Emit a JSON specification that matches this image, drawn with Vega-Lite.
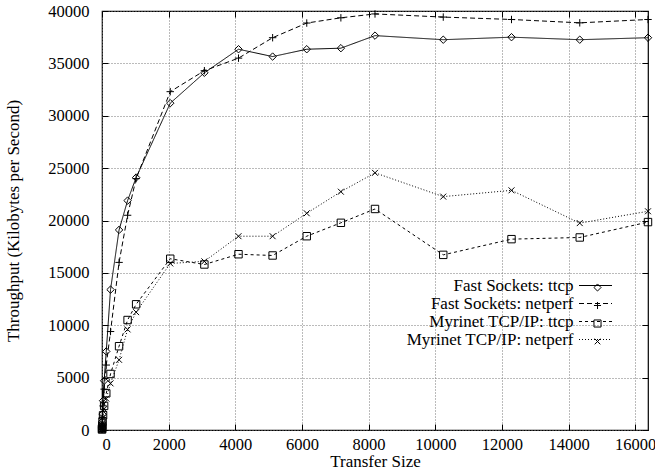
{
  "$schema": "https://vega.github.io/schema/vega-lite/v6.json",
  "width": 546,
  "height": 419,
  "autosize": {"type": "none"},
  "padding": {"left": 102, "top": 11, "right": 7, "bottom": 41},
  "background": "white",
  "config": {
    "font": "Liberation Serif",
    "view": {"stroke": "black", "strokeWidth": 1.2},
    "axis": {
      "labelFont": "Liberation Serif",
      "labelFontSize": 16.5,
      "labelColor": "black",
      "titleFont": "Liberation Serif",
      "titleFontSize": 17,
      "titleFontWeight": "normal",
      "titleColor": "black",
      "domain": false,
      "tickColor": "black",
      "tickSize": -6,
      "gridColor": "#777777",
      "gridDash": [1, 2],
      "gridWidth": 1,
      "gridOpacity": 1
    },
    "legend": {
      "labelFont": "Liberation Serif",
      "labelFontSize": 17,
      "labelColor": "black",
      "labelLimit": 400
    }
  },
  "data": {
    "values": [
      {"size": 1, "tput": 100, "series": "Fast Sockets: ttcp"},
      {"size": 2, "tput": 200, "series": "Fast Sockets: ttcp"},
      {"size": 4, "tput": 400, "series": "Fast Sockets: ttcp"},
      {"size": 8, "tput": 800, "series": "Fast Sockets: ttcp"},
      {"size": 16, "tput": 1500, "series": "Fast Sockets: ttcp"},
      {"size": 32, "tput": 2800, "series": "Fast Sockets: ttcp"},
      {"size": 64, "tput": 4700, "series": "Fast Sockets: ttcp"},
      {"size": 128, "tput": 7500, "series": "Fast Sockets: ttcp"},
      {"size": 256, "tput": 13400, "series": "Fast Sockets: ttcp"},
      {"size": 512, "tput": 19100, "series": "Fast Sockets: ttcp"},
      {"size": 768, "tput": 21900, "series": "Fast Sockets: ttcp"},
      {"size": 1024, "tput": 24100, "series": "Fast Sockets: ttcp"},
      {"size": 2048, "tput": 31200, "series": "Fast Sockets: ttcp"},
      {"size": 3072, "tput": 34100, "series": "Fast Sockets: ttcp"},
      {"size": 4096, "tput": 36350, "series": "Fast Sockets: ttcp"},
      {"size": 5120, "tput": 35650, "series": "Fast Sockets: ttcp"},
      {"size": 6144, "tput": 36350, "series": "Fast Sockets: ttcp"},
      {"size": 7168, "tput": 36450, "series": "Fast Sockets: ttcp"},
      {"size": 8192, "tput": 37650, "series": "Fast Sockets: ttcp"},
      {"size": 10240, "tput": 37260, "series": "Fast Sockets: ttcp"},
      {"size": 12288, "tput": 37500, "series": "Fast Sockets: ttcp"},
      {"size": 14336, "tput": 37260, "series": "Fast Sockets: ttcp"},
      {"size": 16384, "tput": 37450, "series": "Fast Sockets: ttcp"},

      {"size": 1, "tput": 80, "series": "Fast Sockets: netperf"},
      {"size": 2, "tput": 160, "series": "Fast Sockets: netperf"},
      {"size": 4, "tput": 320, "series": "Fast Sockets: netperf"},
      {"size": 8, "tput": 640, "series": "Fast Sockets: netperf"},
      {"size": 16, "tput": 1200, "series": "Fast Sockets: netperf"},
      {"size": 32, "tput": 2300, "series": "Fast Sockets: netperf"},
      {"size": 64, "tput": 3900, "series": "Fast Sockets: netperf"},
      {"size": 128, "tput": 6200, "series": "Fast Sockets: netperf"},
      {"size": 256, "tput": 9400, "series": "Fast Sockets: netperf"},
      {"size": 512, "tput": 16000, "series": "Fast Sockets: netperf"},
      {"size": 768, "tput": 20500, "series": "Fast Sockets: netperf"},
      {"size": 1024, "tput": 24000, "series": "Fast Sockets: netperf"},
      {"size": 2048, "tput": 32300, "series": "Fast Sockets: netperf"},
      {"size": 3072, "tput": 34300, "series": "Fast Sockets: netperf"},
      {"size": 4096, "tput": 35500, "series": "Fast Sockets: netperf"},
      {"size": 5120, "tput": 37450, "series": "Fast Sockets: netperf"},
      {"size": 6144, "tput": 38850, "series": "Fast Sockets: netperf"},
      {"size": 7168, "tput": 39350, "series": "Fast Sockets: netperf"},
      {"size": 8192, "tput": 39720, "series": "Fast Sockets: netperf"},
      {"size": 10240, "tput": 39420, "series": "Fast Sockets: netperf"},
      {"size": 12288, "tput": 39190, "series": "Fast Sockets: netperf"},
      {"size": 14336, "tput": 38870, "series": "Fast Sockets: netperf"},
      {"size": 16384, "tput": 39190, "series": "Fast Sockets: netperf"},

      {"size": 1, "tput": 50, "series": "Myrinet TCP/IP: ttcp"},
      {"size": 2, "tput": 100, "series": "Myrinet TCP/IP: ttcp"},
      {"size": 4, "tput": 200, "series": "Myrinet TCP/IP: ttcp"},
      {"size": 8, "tput": 400, "series": "Myrinet TCP/IP: ttcp"},
      {"size": 16, "tput": 800, "series": "Myrinet TCP/IP: ttcp"},
      {"size": 32, "tput": 1400, "series": "Myrinet TCP/IP: ttcp"},
      {"size": 64, "tput": 2300, "series": "Myrinet TCP/IP: ttcp"},
      {"size": 128, "tput": 3500, "series": "Myrinet TCP/IP: ttcp"},
      {"size": 256, "tput": 5350, "series": "Myrinet TCP/IP: ttcp"},
      {"size": 512, "tput": 8000, "series": "Myrinet TCP/IP: ttcp"},
      {"size": 768, "tput": 10500, "series": "Myrinet TCP/IP: ttcp"},
      {"size": 1024, "tput": 12000, "series": "Myrinet TCP/IP: ttcp"},
      {"size": 2048, "tput": 16350, "series": "Myrinet TCP/IP: ttcp"},
      {"size": 3072, "tput": 15800, "series": "Myrinet TCP/IP: ttcp"},
      {"size": 4096, "tput": 16780, "series": "Myrinet TCP/IP: ttcp"},
      {"size": 5120, "tput": 16660, "series": "Myrinet TCP/IP: ttcp"},
      {"size": 6144, "tput": 18500, "series": "Myrinet TCP/IP: ttcp"},
      {"size": 7168, "tput": 19780, "series": "Myrinet TCP/IP: ttcp"},
      {"size": 8192, "tput": 21100, "series": "Myrinet TCP/IP: ttcp"},
      {"size": 10240, "tput": 16720, "series": "Myrinet TCP/IP: ttcp"},
      {"size": 12288, "tput": 18220, "series": "Myrinet TCP/IP: ttcp"},
      {"size": 14336, "tput": 18380, "series": "Myrinet TCP/IP: ttcp"},
      {"size": 16384, "tput": 19850, "series": "Myrinet TCP/IP: ttcp"},

      {"size": 1, "tput": 40, "series": "Myrinet TCP/IP: netperf"},
      {"size": 2, "tput": 80, "series": "Myrinet TCP/IP: netperf"},
      {"size": 4, "tput": 160, "series": "Myrinet TCP/IP: netperf"},
      {"size": 8, "tput": 320, "series": "Myrinet TCP/IP: netperf"},
      {"size": 16, "tput": 650, "series": "Myrinet TCP/IP: netperf"},
      {"size": 32, "tput": 1200, "series": "Myrinet TCP/IP: netperf"},
      {"size": 64, "tput": 2000, "series": "Myrinet TCP/IP: netperf"},
      {"size": 128, "tput": 3000, "series": "Myrinet TCP/IP: netperf"},
      {"size": 256, "tput": 4450, "series": "Myrinet TCP/IP: netperf"},
      {"size": 512, "tput": 6700, "series": "Myrinet TCP/IP: netperf"},
      {"size": 768, "tput": 9600, "series": "Myrinet TCP/IP: netperf"},
      {"size": 1024, "tput": 11250, "series": "Myrinet TCP/IP: netperf"},
      {"size": 2048, "tput": 15900, "series": "Myrinet TCP/IP: netperf"},
      {"size": 3072, "tput": 16100, "series": "Myrinet TCP/IP: netperf"},
      {"size": 4096, "tput": 18500, "series": "Myrinet TCP/IP: netperf"},
      {"size": 5120, "tput": 18500, "series": "Myrinet TCP/IP: netperf"},
      {"size": 6144, "tput": 20690, "series": "Myrinet TCP/IP: netperf"},
      {"size": 7168, "tput": 22750, "series": "Myrinet TCP/IP: netperf"},
      {"size": 8192, "tput": 24550, "series": "Myrinet TCP/IP: netperf"},
      {"size": 10240, "tput": 22280, "series": "Myrinet TCP/IP: netperf"},
      {"size": 12288, "tput": 22880, "series": "Myrinet TCP/IP: netperf"},
      {"size": 14336, "tput": 19750, "series": "Myrinet TCP/IP: netperf"},
      {"size": 16384, "tput": 20880, "series": "Myrinet TCP/IP: netperf"}
    ]
  },
  "layer": [
    {
      "mark": {"type": "line", "color": "black", "strokeWidth": 1},
      "encoding": {
        "x": {
          "field": "size", "type": "quantitative",
          "scale": {"domain": [0, 16384], "nice": false, "zero": false},
          "axis": {
            "orient": "bottom",
            "values": [0, 2000, 4000, 6000, 8000, 10000, 12000, 14000, 16000],
            "title": "Transfer Size",
            "titlePadding": 1,
            "labelPadding": 12,
            "grid": true,
            "format": "d"
          }
        },
        "y": {
          "field": "tput", "type": "quantitative",
          "scale": {"domain": [0, 40000], "nice": false},
          "axis": {
            "orient": "left",
            "values": [0, 5000, 10000, 15000, 20000, 25000, 30000, 35000, 40000],
            "title": "Throughput (Kilobytes per Second)",
            "titlePadding": 25,
            "labelPadding": 19,
            "grid": true,
            "format": "d"
          }
        },
        "strokeDash": {
          "field": "series", "type": "nominal",
          "scale": {
            "domain": ["Fast Sockets: ttcp", "Fast Sockets: netperf", "Myrinet TCP/IP: ttcp", "Myrinet TCP/IP: netperf"],
            "range": [[1, 0], [5, 3], [3, 3], [1, 2]]
          },
          "legend": {
            "orient": "none",
            "legendX": 485,
            "legendY": 266,
            "title": null,
            "symbolType": "M-3,0H3",
            "symbolSize": 121,
            "symbolStrokeColor": "black",
            "symbolStrokeWidth": 1,
            "labelAlign": "right",
            "labelOffset": -30.5,
            "rowPadding": 0
          }
        }
      }
    },
    {
      "mark": {"type": "point", "color": "black", "filled": false, "strokeWidth": 1, "size": 55, "opacity": 1},
      "encoding": {
        "x": {
          "field": "size", "type": "quantitative",
          "axis": {"orient": "top", "values": [0, 2000, 4000, 6000, 8000, 10000, 12000, 14000, 16000], "labels": false, "grid": false, "title": null}
        },
        "y": {
          "field": "tput", "type": "quantitative",
          "axis": {"orient": "right", "values": [0, 5000, 10000, 15000, 20000, 25000, 30000, 35000, 40000], "labels": false, "grid": false, "title": null}
        },
        "shape": {
          "field": "series", "type": "nominal",
          "scale": {
            "domain": ["Fast Sockets: ttcp", "Fast Sockets: netperf", "Myrinet TCP/IP: ttcp", "Myrinet TCP/IP: netperf"],
            "range": ["diamond", "M-1,0H1M0,-1V1", "square", "M-0.8,-0.8L0.8,0.8M-0.8,0.8L0.8,-0.8"]
          },
          "legend": {
            "orient": "none",
            "legendX": 487,
            "legendY": 268,
            "title": null,
            "symbolSize": 50,
            "symbolStrokeColor": "black",
            "symbolFillColor": "white",
            "symbolStrokeWidth": 1,
            "labelExpr": "''",
            "rowPadding": 0
          }
        }
      }
    }
  ],
  "resolve": {"axis": {"x": "independent", "y": "independent"}, "legend": {"shape": "independent"}}
}
